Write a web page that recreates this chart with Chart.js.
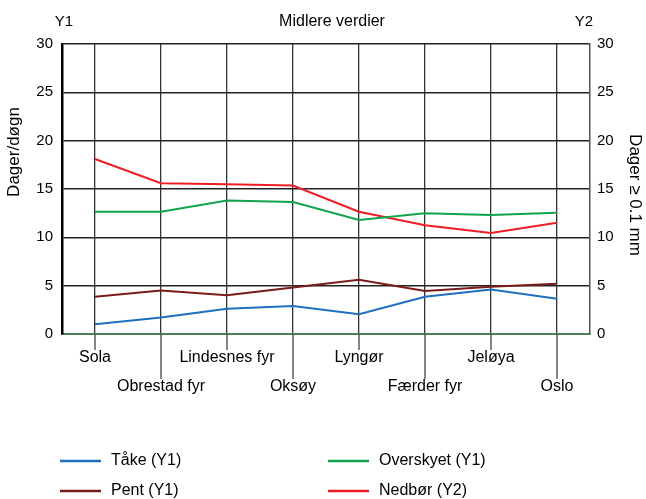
<!DOCTYPE html>
<html>
<head>
<meta charset="utf-8">
<script src="https://cdn.jsdelivr.net/npm/chart.js@4.4.1/dist/chart.umd.min.js"></script>
<style>
    html, body { margin: 0; padding: 0; background: #fff; }
    #wrap { width: 646px; height: 499px; }
</style>
</head>
<body>
<div id="wrap"><canvas id="chart-main"></canvas></div>
<script>
// Stasjoner og midlere verdier (dager)
const stations = ['Sola', 'Obrestad fyr', 'Lindesnes fyr', 'Oksøy', 'Lyngør', 'Færder fyr', 'Jeløya', 'Oslo'];
const taake = [1.0, 1.7, 2.6, 2.9, 2.05, 3.85, 4.6, 3.65];
const pent = [3.85, 4.5, 4.0, 4.8, 5.6, 4.45, 4.9, 5.2];
const overskyet = [12.65, 12.65, 13.8, 13.65, 11.8, 12.5, 12.3, 12.55];
const nedbor = [18.1, 15.6, 15.5, 15.35, 12.65, 11.25, 10.45, 11.5];
const yTicks = [0, 5, 10, 15, 20, 25, 30];

const FONT = 'Arial, "Liberation Sans", sans-serif';

const series = [
    { label: 'Tåke (Y1)', data: taake, color: '#1f6fbf', axis: 'y' },
    { label: 'Pent (Y1)', data: pent, color: '#7b1c1c', axis: 'y' },
    { label: 'Overskyet (Y1)', data: overskyet, color: '#12a34f', axis: 'y' },
    { label: 'Nedbør (Y2)', data: nedbor, color: '#ee1c25', axis: 'y2' }
];

function rotatedText(ctx, text, x, y, angle) {
    ctx.save();
    ctx.translate(x, y);
    ctx.rotate(angle);
    ctx.fillText(text, 0, 0);
    ctx.restore();
}

// Labels under the x axis, staggered on two rows, plus titles and legend
const extras = {
    id: 'extras',
    afterDraw(chart) {
        const ctx = chart.ctx;
        const xs = chart.scales.x;
        const bottom = chart.chartArea.bottom;
        ctx.save();
        ctx.strokeStyle = '#444';
        ctx.lineWidth = 1.3;
        ctx.fillStyle = '#000';
        ctx.font = '16px ' + FONT;
        ctx.textAlign = 'center';
        ctx.textBaseline = 'middle';
        stations.forEach((s, i) => {
            const x = xs.getPixelForValue(i);
            const low = i % 2 === 1;
            ctx.beginPath();
            ctx.moveTo(x, bottom);
            ctx.lineTo(x, low ? 379 : 350);
            ctx.stroke();
            ctx.fillText(s, x, low ? 387 : 358);
        });

        ctx.fillText('Midlere verdier', 332, 22);
        ctx.font = '15px ' + FONT;
        ctx.fillText('Y1', 64, 22);
        ctx.fillText('Y2', 584, 22);

        // axis titles
        ctx.font = '17px ' + FONT;
        rotatedText(ctx, 'Dager/døgn', 14, 152, -Math.PI / 2);
        rotatedText(ctx, 'Dager ≥ 0.1 mm', 635, 195, Math.PI / 2);

        // legend
        ctx.font = '16px ' + FONT;
        const cols = [60, 328];
        const rows = [461, 491];
        series.forEach((d, i) => {
            const x = cols[Math.floor(i / 2)];
            const y = rows[i % 2];
            ctx.strokeStyle = d.color;
            ctx.lineWidth = 2.5;
            ctx.beginPath();
            ctx.moveTo(x, y);
            ctx.lineTo(x + 41, y);
            ctx.stroke();
            ctx.textAlign = 'left';
            ctx.fillText(d.label, x + 51, y);
        });
        ctx.restore();
    }
};

const ctx = document.getElementById('chart-main').getContext('2d');
new Chart(ctx, {
    type: 'line',
    data: {
        labels: stations,
        datasets: series.map(d => ({
            label: d.label,
            data: d.data,
            yAxisID: d.axis,
            borderColor: d.color,
            backgroundColor: d.color,
            borderWidth: 2,
            pointRadius: 0,
            tension: 0,
            fill: false
        }))
    },
    options: {
        responsive: true,
        maintainAspectRatio: false,
        animation: false,
        layout: { padding: { top: 44, left: 0, right: 0, bottom: 0 } },
        plugins: { legend: { display: false }, tooltip: { enabled: false } },
        scales: {
            x: {
                offset: true,
                grid: { color: '#333', lineWidth: 1.3, drawTicks: false },
                ticks: { display: false },
                border: { color: '#4f7d60', width: 2 },
                afterFit: s => { s.height = 165; }
            },
            y: {
                position: 'left',
                min: 0, max: 30,
                afterBuildTicks: s => { s.ticks = yTicks.map(v => ({ value: v })); },
                ticks: { color: '#000', font: { size: 15, family: FONT }, padding: 9 },
                grid: { color: '#222', lineWidth: 1.4, drawTicks: false },
                border: { color: '#000', width: 2.5 },
                afterFit: s => { s.width = 62; }
            },
            y2: {
                position: 'right',
                min: 0, max: 30,
                afterBuildTicks: s => { s.ticks = yTicks.map(v => ({ value: v })); },
                ticks: { color: '#000', font: { size: 15, family: FONT }, padding: 7 },
                grid: { drawOnChartArea: false, drawTicks: false },
                border: { color: '#555', width: 1.5 },
                afterFit: s => { s.width = 56; }
            }
        }
    },
    plugins: [extras]
});
</script>
</body>
</html>
